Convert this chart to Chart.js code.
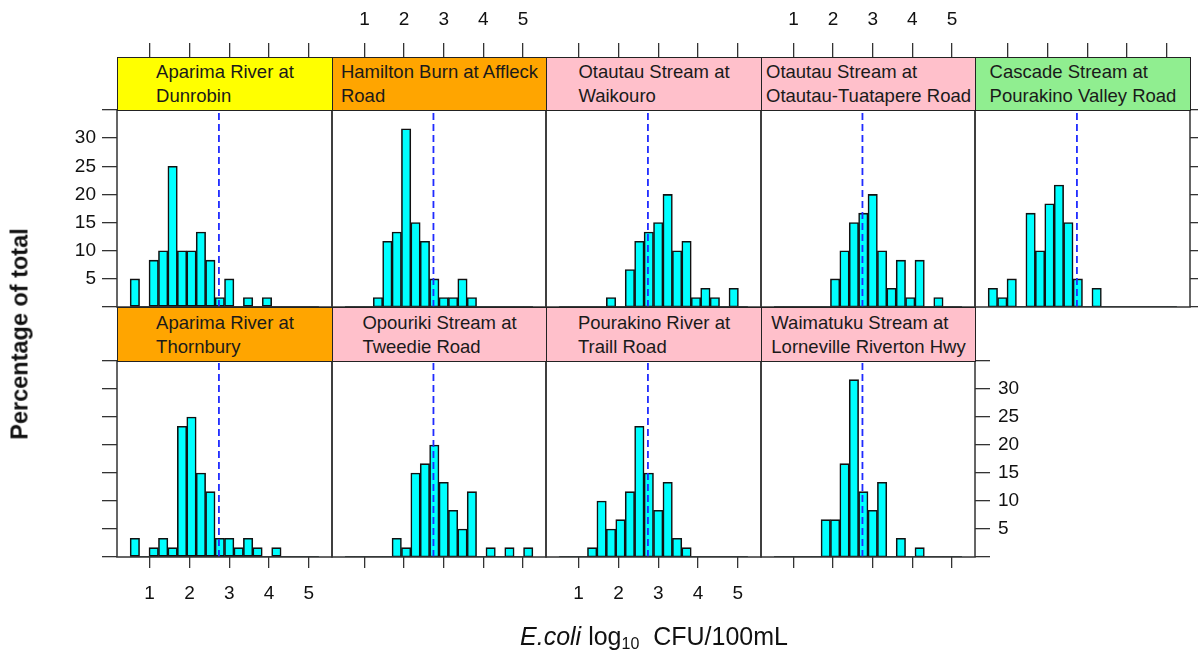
<!DOCTYPE html>
<html>
<head>
<meta charset="utf-8">
<title>E. coli distributions by site</title>
<script src="https://cdn.jsdelivr.net/npm/chart.js@4.4.1/dist/chart.umd.min.js"></script>
<style>
  html, body { margin: 0; padding: 0; background: #fff; }
  #fig { position: relative; width: 1198px; height: 653px; overflow: hidden;
         font-family: "Liberation Sans", Arial, Helvetica, sans-serif; color: #111; }
  #fig canvas { position: absolute; z-index: 1; }
  .strip { position: absolute; z-index: 2; box-sizing: border-box; border: 1.5px solid #222;
           display: flex; align-items: center; justify-content: center;
           font-size: 18.5px; line-height: 24px; color: #1a1a1a; }
  .strip span { display: inline-block; text-align: left; white-space: pre; }
  .ylab { position: absolute; z-index: 3; left: 20px; top: 334px; white-space: nowrap;
          transform: translate(-50%, -50%) rotate(-90deg); font-weight: bold; font-size: 23.5px; }
  .xlab { position: absolute; z-index: 3; left: 654px; top: 637px; white-space: nowrap;
          transform: translate(-50%, -50%); font-size: 25px; }
  .xlab sub { font-size: 16px; vertical-align: -4px; }
</style>
</head>
<body>
<div id="fig">
  <div class="ylab">Percentage of total</div>
  <div class="xlab"><i>E.coli</i> log<sub>10</sub>&nbsp; CFU/100mL</div>
</div>
<script>
// Histogram break points (log10 CFU/100mL), 20 equal bins shared by every site
const BIN_BREAKS = [0.510, 0.747, 0.984, 1.221, 1.458, 1.695, 1.932, 2.169, 2.406, 2.643,
                    2.880, 3.117, 3.354, 3.591, 3.828, 4.065, 4.302, 4.539, 4.776, 5.013, 5.250];

// Site names as shown in the strips
const SITE_NAMES = [
  "Aparima River at\nDunrobin",
  "Hamilton Burn at Affleck\nRoad",
  "Otautau Stream at\nWaikouro",
  "Otautau Stream at\nOtautau-Tuatapere Road",
  "Cascade Stream at\nPourakino Valley Road",
  "Aparima River at\nThornbury",
  "Opouriki Stream at\nTweedie Road",
  "Pourakino River at\nTraill Road",
  "Waimatuku Stream at\nLorneville Riverton Hwy"
];

// Percentage of samples falling in each bin, per site
const PCT_APARIMA_DUNROBIN  = [5, 0, 8.33, 10, 25, 10, 10, 13.33, 8.33, 1.67, 5, 0, 1.67, 0, 1.67, 0, 0, 0, 0, 0];
const PCT_HAMILTON_BURN     = [0, 0, 0, 1.67, 11.67, 13.33, 31.67, 15, 11.67, 5, 1.67, 1.67, 5, 1.67, 0, 0, 0, 0, 0, 0];
const PCT_OTAUTAU_WAIKOURO  = [0, 0, 0, 0, 0, 1.67, 0, 6.67, 11.67, 13.33, 15, 20, 10, 11.67, 1.67, 3.33, 1.67, 0, 3.33, 0];
const PCT_OTAUTAU_TUATAPERE = [0, 0, 0, 0, 0, 0, 5, 10, 15, 16.67, 20, 10, 3.33, 8.33, 1.67, 8.33, 0, 1.67, 0, 0];
const PCT_CASCADE           = [3.33, 1.67, 5, 0, 16.67, 10, 18.33, 21.67, 15, 5, 0, 3.33, 0, 0, 0, 0, 0, 0, 0, 0];
const PCT_APARIMA_THORNBURY = [3.33, 0, 1.67, 3.33, 1.67, 23.33, 25, 15, 11.67, 3.33, 3.33, 1.67, 3.33, 1.67, 0, 1.67, 0, 0, 0, 0];
const PCT_OPOURIKI          = [0, 0, 0, 0, 0, 3.33, 1.67, 15, 16.67, 20, 13.33, 8.33, 5, 11.67, 0, 1.67, 0, 1.67, 0, 1.67];
const PCT_POURAKINO_TRAILL  = [0, 0, 0, 1.67, 10, 5, 6.67, 11.67, 23.33, 15, 8.33, 13.33, 3.33, 1.67, 0, 0, 0, 0, 0, 0];
const PCT_WAIMATUKU         = [0, 0, 0, 0, 0, 6.67, 6.67, 16.67, 31.67, 11.67, 8.33, 13.33, 0, 3.33, 0, 1.67, 0, 0, 0, 0];

const SITE_PCTS = [PCT_APARIMA_DUNROBIN, PCT_HAMILTON_BURN, PCT_OTAUTAU_WAIKOURO, PCT_OTAUTAU_TUATAPERE,
                   PCT_CASCADE, PCT_APARIMA_THORNBURY, PCT_OPOURIKI, PCT_POURAKINO_TRAILL, PCT_WAIMATUKU];

// Axis ticks
const X_TICKS = [1, 2, 3, 4, 5];
const Y_TICKS = [0, 5, 10, 15, 20, 25, 30, 35];
const Y_TICK_LABELS = ["", "5", "10", "15", "20", "25", "30", ""];

// Guideline value: log10(550 CFU/100mL)
const GUIDELINE = 2.74;

// ---- styling and layout ----
const X_MIN = 0.18, X_MAX = 5.58;
const Y_MIN = 0, Y_MAX = 35;
const STRIP_FILL = ["#ffff00", "#ffa500", "#ffc0cb", "#ffc0cb", "#90ee90",
                    "#ffa500", "#ffc0cb", "#ffc0cb", "#ffc0cb"];
const COL_LEFT = [117, 332, 546, 761, 975, 1190];
const ROWS = [
  { stripTop: 57,  plotTop: 110, plotBottom: 307, mTop: 110, mBottom: 12 },
  { stripTop: 307, plotTop: 361, plotBottom: 557, mTop: 54,  mBottom: 96 }
];
const M_LEFT = 100, M_RIGHT = 60;
const TICK_FONT = { family: "'Liberation Sans', Arial, sans-serif", size: 19 };
const AXIS_COLOR = "#333";

const fig = document.getElementById("fig");

const panelFrame = {
  id: "panelFrame",
  afterDatasetsDraw(chart) {
    const { ctx, chartArea: a } = chart;
    ctx.save();
    ctx.strokeStyle = AXIS_COLOR;
    ctx.lineWidth = 1.5;
    ctx.strokeRect(a.left, a.top, a.right - a.left, a.bottom - a.top);
    ctx.restore();
  }
};

function fixedSize(size) {
  return (scale) => {
    if (scale.isHorizontal()) scale.height = size; else scale.width = size;
    scale.paddingLeft = scale.paddingRight = scale.paddingTop = scale.paddingBottom = 0;
  };
}

// role: null (nothing), "ticks" (marks only), "labels" (marks + numbers)
function xAxis(position, role, size, tickLength, padding) {
  return {
    type: "linear", position, min: X_MIN, max: X_MAX, display: true, offset: false,
    afterBuildTicks: (s) => { s.ticks = X_TICKS.map((v) => ({ value: v })); },
    afterFit: fixedSize(size),
    grid: { display: role !== null, drawOnChartArea: false, offset: false, tickLength,
            color: AXIS_COLOR, lineWidth: 1.3 },
    border: { display: false },
    ticks: { display: role === "labels", color: "#111", font: TICK_FONT, padding,
             maxRotation: 0, autoSkip: false, callback: (v) => String(v) }
  };
}

function yAxis(position, role, size, tickLength, padding) {
  return {
    type: "linear", position, min: Y_MIN, max: Y_MAX, display: true, offset: false,
    afterBuildTicks: (s) => { s.ticks = Y_TICKS.map((v) => ({ value: v })); },
    afterFit: fixedSize(size),
    grid: { display: role !== null, drawOnChartArea: false, offset: false, tickLength,
            color: AXIS_COLOR, lineWidth: 1.3 },
    border: { display: false },
    ticks: { display: role === "labels", color: "#111", font: TICK_FONT, padding,
             autoSkip: false, callback: (v, i) => Y_TICK_LABELS[i] }
  };
}

function buildPanel(k) {
  const rowIdx = k < 5 ? 0 : 1;
  const col = rowIdx === 0 ? k : k - 5;
  const row = ROWS[rowIdx];
  const left = COL_LEFT[col];
  const width = COL_LEFT[col + 1] - left;
  const height = row.plotBottom - row.plotTop;

  // strip with the site name
  const strip = document.createElement("div");
  strip.className = "strip";
  strip.style.left = left + "px";
  strip.style.top = row.stripTop + "px";
  strip.style.width = (width + 1) + "px";
  strip.style.height = (row.plotTop - row.stripTop + 1) + "px";
  strip.style.background = STRIP_FILL[k];
  const label = document.createElement("span");
  label.textContent = SITE_NAMES[k];
  strip.appendChild(label);
  fig.appendChild(strip);

  // which axis sides carry ticks / labels
  const topRole = rowIdx === 0 ? (col % 2 === 1 ? "labels" : "ticks") : null;
  const bottomRole = rowIdx === 1 ? (col % 2 === 0 ? "labels" : "ticks") : null;
  const leftRole = col === 0 ? (rowIdx === 0 ? "labels" : "ticks") : null;
  let rightRole = null;
  if (rowIdx === 0 && col === 4) rightRole = "ticks";
  if (rowIdx === 1 && col === 3) rightRole = "labels";

  const canvas = document.createElement("canvas");
  const cw = width + M_LEFT + M_RIGHT;
  const ch = height + row.mTop + row.mBottom;
  canvas.width = cw; canvas.height = ch;
  canvas.style.width = cw + "px"; canvas.style.height = ch + "px";
  canvas.style.left = (left - M_LEFT) + "px";
  canvas.style.top = (row.plotTop - row.mTop) + "px";
  fig.appendChild(canvas);

  const pct = SITE_PCTS[k];
  const bars = pct.map((v, i) => ({ x: (BIN_BREAKS[i] + BIN_BREAKS[i + 1]) / 2, y: v }));

  new Chart(canvas, {
    type: "bar",
    data: {
      datasets: [
        {
          type: "line", order: 0,
          data: [{ x: GUIDELINE, y: Y_MIN }, { x: GUIDELINE, y: Y_MAX }],
          borderColor: "#1f2bff", borderWidth: 1.8, borderDash: [7, 4],
          pointRadius: 0, xAxisID: "x", yAxisID: "y"
        },
        {
          type: "line", order: 1,
          data: [{ x: BIN_BREAKS[0], y: 0 }, { x: BIN_BREAKS[BIN_BREAKS.length - 1], y: 0 }],
          borderColor: "#111", borderWidth: 1.5, pointRadius: 0, xAxisID: "x", yAxisID: "y"
        },
        {
          type: "bar", order: 2, data: bars,
          backgroundColor: "#00ffff", borderColor: "#111",
          borderWidth: (c) => (c.raw && c.raw.y > 0 ? 1.6 : 0),
          borderSkipped: false, barPercentage: 1, categoryPercentage: 1,
          xAxisID: "x", yAxisID: "y"
        }
      ]
    },
    options: {
      responsive: false, animation: false, devicePixelRatio: 1,
      layout: { padding: 0 },
      plugins: { legend: { display: false }, tooltip: { enabled: false } },
      events: [],
      scales: {
        x: xAxis("bottom", bottomRole, row.mBottom, 11, 14),
        xTop: xAxis("top", topRole, row.mTop, 67, 12),
        y: yAxis("left", leftRole, M_LEFT, 15, 6),
        yRight: yAxis("right", rightRole, M_RIGHT, 15, 8)
      }
    },
    plugins: [panelFrame]
  });
}

for (let k = 0; k < SITE_NAMES.length; k++) buildPanel(k);
</script>
</body>
</html>
